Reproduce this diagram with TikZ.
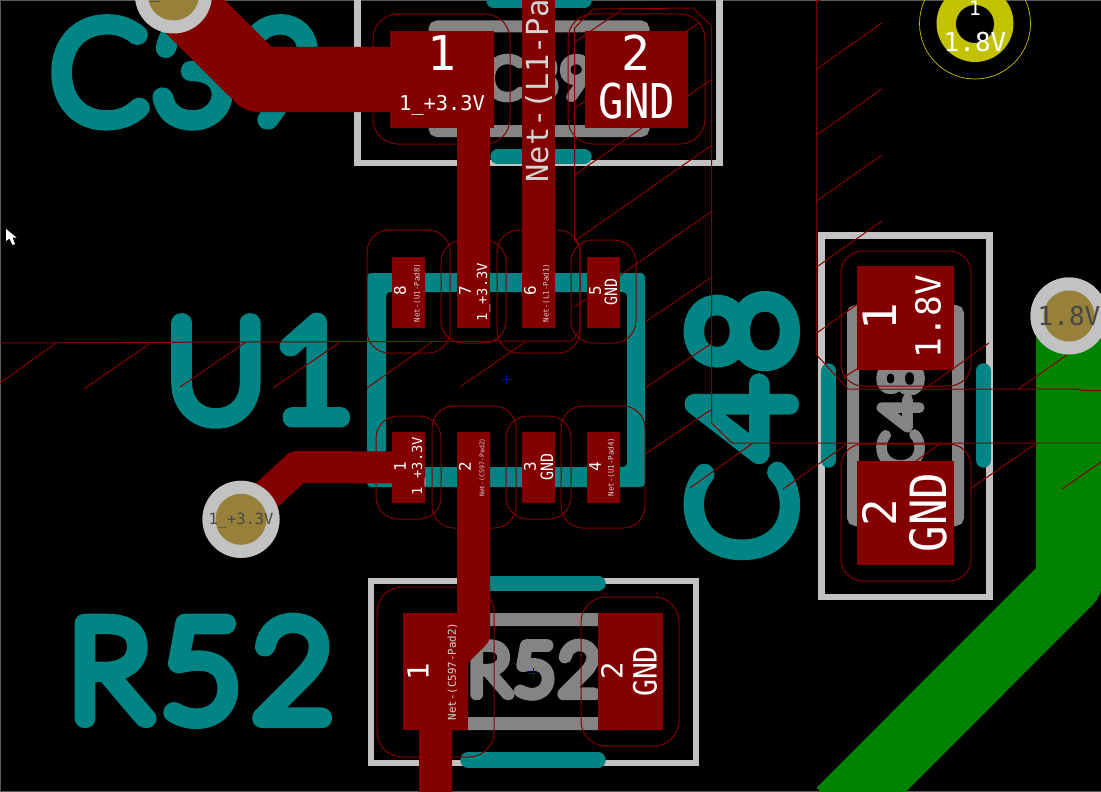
\documentclass[tikz,border=0pt]{standalone}
\usepackage{fontspec}
\newfontfamily\padfont{DejaVu Sans Mono}
\newfontfamily\padnarrow[FakeStretch=0.88]{DejaVu Sans Mono}
\newfontfamily\silkfont[UprightFont=* Hairline, FakeStretch=1.02, LetterSpace=5]{Lato}
\definecolor{padred}{HTML}{840000}
\definecolor{silkteal}{HTML}{008484}
\definecolor{fabgray}{HTML}{848484}
\definecolor{ringgray}{HTML}{C2C2C2}
\definecolor{viagold}{HTML}{97803A}
\definecolor{viayellow}{HTML}{C2C200}
\definecolor{copper}{HTML}{008400}
\definecolor{labelgray}{HTML}{D4D4D4}
% text centred on its capital height
\newcommand\padtext[2]{\fontsize{#1}{#1}\selectfont\raisebox{-.365em}[0pt][0pt]{#2}}
\newcommand\silktext[3]{\fontsize{#1}{#1}\selectfont\silkfont\raisebox{-.36em}[0pt][0pt]{\special{pdf:code q 1 j 1 J #2 w 2 Tr}#3\special{pdf:code Q}}}
\begin{document}
\begin{tikzpicture}[x=1pt, y=-1pt,
    label/.style = {inner sep=0pt, text=white, font=\padfont},
    narrowlabel/.style = {label, font=\padnarrow},
    netlabel/.style = {label, text=labelgray},
    vert/.style = {rotate=90},
    silk/.style = {inner sep=0pt, text=silkteal},
    fabtext/.style = {inner sep=0pt, text=fabgray},
    pad/.style = {fill=padred, inner sep=0pt, minimum width=#1},
    upad/.style = {pad=33pt, minimum height=71pt},
    track/.style = {draw=padred, line width=33pt, line join=round},
    outline/.style = {draw=ringgray, line width=6.5pt},
    silkbar/.style = {draw=silkteal, line width=15.5pt, line cap=round},
    fabline/.style = {draw=fabgray, line width=12pt, rounded corners=3pt},
    clearance/.style = {draw=padred, line width=1pt, rounded corners=#1},
    hatch/.style = {draw=padred, line width=1pt},
    ring/.style = {circle, fill=ringgray, inner sep=0pt, minimum size=77pt},
    core/.style = {circle, fill=viagold, inner sep=0pt, minimum size=51pt},
    centre/.style = {draw=blue!70!black, line width=0.6pt}]
  \clip (0,0) rectangle (1101,792);
  \fill[black] (0,0) rectangle (1101,792);
  % board edge of the window
  \draw[gray!70!black, line width=1.5pt] (0,792) -- (0,0) -- (1101,0);
  \draw[gray!70!black, line width=1pt] (0,791.5) -- (1101,791.5);
  % component outlines
  \draw[outline] (357.5,-20) rectangle (719.5,163);
  \draw[outline] (371,581) rectangle (696,763);
  \draw[outline] (821.5,235.5) rectangle (989.5,597);
  % fabrication layer
  \draw[fabline] (434.5,26.5) rectangle (643.5,131);
  \draw[fabline, line width=13pt] (440,619.5) rectangle (625,723.5);
  \draw[fabline] (853,311) rectangle (958,520);
  \node[fabtext] (fabc39) at (539,77.5) {\silktext{54}{10}{C39}};
  \node[fabtext] (fabr52) at (534,669) {\silktext{70}{12}{R52}};
  \node[fabtext, vert] (fabc48) at (900,416) {\silktext{54}{10}{C48}};
  % silkscreen
  \draw[silkbar] (494,0.5) -- (584,0.5);
  \draw[silkbar] (498,156.5) -- (584,156.5);
  \draw[silkbar] (467.5,583.5) -- (598,583.5);
  \draw[silkbar] (468,760) -- (598,760);
  \draw[silkbar] (828.5,371) -- (828.5,460);
  \draw[silkbar] (983.5,371) -- (983.5,460);
  \fill[silkteal, even odd rule, rounded corners=4pt] (367,273) rectangle (645,487) (386,292) rectangle (627,467);
  \node[silk] (silkc39) at (186,71) {\silktext{136}{19}{C39}};
  \node[silk] (silku1) at (259.5,369) {\silktext{136}{19}{U1}};
  \node[silk] (silkr52) at (200.5,669.5) {\silktext{136}{19}{R\hspace{11pt}5\hspace{11pt}2}};
  \node[silk, vert] (silkc48) at (740.5,425.5) {\silktext{136}{19}{C48}};
  % power plane
  \node[ring] (viac) at (1069,316) {};
  \draw[copper, line width=66pt, line join=round] (viac.center) -- (1069,581.7) -- (840,811);
  % zone outlines and hatching
  \draw[hatch] (0,343) -- (246,342) -- (572,341) -- (580,330) -- (580,247) -- (574.7,240) -- (574.7,28) -- (593,9)
    -- (693,8) -- (711.5,26) -- (711.5,423) -- (732,443) -- (1101,443);
  \draw[hatch] (816.7,0) -- (816.7,355) -- (848,389) -- (1077,389) -- (1082,390.5) -- (1101,390.5);
  \foreach \xa/\ya/\xb/\yb in {0/383/56/343, 84/389/149/344, 180/387/246/342, 273/388/340/342,
      367/388/432/342, 460/387/525/342, 574.7/42/623/9, 574.7/108/700/22, 574.7/175/712/79,
      574.7/241/712/145, 574.7/307/712/211, 645/322/712/277, 645/388/712/343, 645/454/712/409,
      690/488/753/443, 783/489/847/444, 876/489/940/444, 970/489/1035/444, 1062/489/1101/462,
      816.7/2/820/0, 816.7/69/881.7/23, 816.7/135/881.7/89, 816.7/201/881.7/155, 816.7/267/881.7/221,
      816.7/333/881.7/287, 843/378/881.7/353, 923/390/989/343, 1018/389/1067/355}
    \draw[hatch] (\xa,\ya) -- (\xb,\yb);
  % pads
  \node[pad=104pt, minimum height=97pt] (c39a) at (442,79.5) {};
  \node[pad=103pt, minimum height=97pt] (c39b) at (636.5,79.5) {};
  \node[upad] (u1p8) at (408.5,292) {};
  \node[upad] (u1p7) at (473.5,292) {};
  \node[upad] (u1p6) at (538,292) {};
  \node[upad] (u1p5) at (603,292) {};
  \node[upad] (u1p1) at (408.5,467.5) {};
  \node[upad] (u1p2) at (473.5,467.5) {};
  \node[upad] (u1p3) at (538,467.5) {};
  \node[upad] (u1p4) at (603,467.5) {};
  \node[pad=65pt, minimum height=117pt] (r52a) at (435.5,671.5) {};
  \node[pad=65pt, minimum height=117pt] (r52b) at (630.5,671.5) {};
  \node[pad=97pt, minimum height=104pt] (c48a) at (905.5,318) {};
  \node[pad=97pt, minimum height=104pt] (c48b) at (905.5,513) {};
  % vias
  \node[ring] (viaa) at (173.5,-5) {};
  \node[ring] (viab) at (241,519.3) {};
  \node[circle, fill=viayellow, inner sep=0pt, minimum size=77pt] (viad) at (975,23.5) {};
  \node[circle, fill=black, inner sep=0pt, minimum size=38pt] (viadhole) at (975,24) {};
  \node[circle, draw=viayellow, line width=0.7pt, inner sep=0pt, minimum size=111pt] (viadring) at (975,23.5) {};
  % tracks
  \draw[track, line width=65pt] (viaa.center) -- (258.5,79.5) -- (c39a.center);
  \draw[track] (473.5,100) -- (u1p7.center);
  \draw[track] (538,-5) -- (u1p6.center);
  \draw[track, line width=32pt] (u1p1.center) -- (297,467) -- (viab.center);
  \draw[track] (u1p2.center) -- (473.5,634) -- (435.5,672) -- (435.5,800);
  \node[ring] at (viab) {};
  \node[ring] at (viac) {};
  \node[ring] at (viaa) {};
  \node[core] (corea) at (viaa) {};
  \node[core] (coreb) at (viab) {};
  \node[core] (corec) at (viac) {};
  \draw[black!70, line width=1pt] (150,2) -- (160,2);
  % clearance around pads
  \draw[clearance=25pt] (373,14) rectangle (510,144);
  \draw[clearance=25pt] (568,14) rectangle (705,144);
  \draw[clearance=22pt] (367,230) rectangle (450,353);
  \draw[clearance=22pt] (441,240) rectangle (506,343);
  \draw[clearance=22pt] (497,230) rectangle (580,353);
  \draw[clearance=22pt] (571,240) rectangle (636,343);
  \draw[clearance=22pt] (376,416) rectangle (441,519);
  \draw[clearance=22pt] (432,406) rectangle (516,528);
  \draw[clearance=22pt] (506,416) rectangle (571,519);
  \draw[clearance=22pt] (561,406) rectangle (645,528);
  \draw[clearance=25pt] (377,587) rectangle (494,757);
  \draw[clearance=25pt] (581,597) rectangle (679,746);
  \draw[clearance=22pt] (841,251) rectangle (971,386);
  \draw[clearance=22pt] (841,444) rectangle (971,581);
  % footprint centres
  \draw[centre] (501,379) -- (511,379) (506,374) -- (506,384);
  \draw[centre] (528,673) -- (538,673) (533,668) -- (533,678);
  % pad texts
  \node[label] (c39anum) at (442,52.5) {\padtext{48}{1}};
  \node[label] (c39anet) at (442,103) {\padtext{20.4}{1\_+3.3V}};
  \node[label] (c39bnum) at (636,52.5) {\padtext{48}{2}};
  \node[narrowlabel] (c39bnet) at (637,101) {\padtext{48}{GND}};
  \node[netlabel, vert] (l1net) at (537,91) {\padtext{30.4}{Net-(L1-Pa}};
  \node[label, vert] (u1p8num) at (400,291) {\padtext{16}{8}};
  \node[netlabel, vert] (u1p8net) at (417,293) {\padtext{7.5}{Net-(U1-Pad8)}};
  \node[label, vert] (u1p7num) at (465,291) {\padtext{16}{7}};
  \node[label, vert] (u1p7net) at (482,292) {\padtext{13.8}{1\_+3.3V}};
  \node[label, vert] (u1p6num) at (530,291) {\padtext{16}{6}};
  \node[netlabel, vert] (u1p6net) at (546,293) {\padtext{7.5}{Net-(L1-Pad1)}};
  \node[label, vert] (u1p5num) at (595,291) {\padtext{16}{5}};
  \node[narrowlabel, vert] (u1p5net) at (611,292) {\padtext{17}{GND}};
  \node[label, vert] (u1p1num) at (400,467) {\padtext{16}{1}};
  \node[label, vert] (u1p1net) at (417,466) {\padtext{13.8}{1\_+3.3V}};
  \node[label, vert] (u1p2num) at (465,467) {\padtext{16}{2}};
  \node[netlabel, vert] (u1p2net) at (482,467.5) {\padtext{6.5}{Net-(C597-Pad2)}};
  \node[label, vert] (u1p3num) at (530,467) {\padtext{16}{3}};
  \node[narrowlabel, vert] (u1p3net) at (547,467) {\padtext{17}{GND}};
  \node[label, vert] (u1p4num) at (595,467) {\padtext{16}{4}};
  \node[netlabel, vert] (u1p4net) at (611,467) {\padtext{7.5}{Net-(U1-Pad4)}};
  \node[label, vert] (r52anum) at (418,672) {\padtext{29}{1}};
  \node[netlabel, vert] (r52anet) at (452,671.5) {\padtext{10.8}{Net-(C597-Pad2)}};
  \node[label, vert] (r52bnum) at (612,671) {\padtext{29}{2}};
  \node[narrowlabel, vert] (r52bnet) at (645,671.5) {\padtext{32}{GND}};
  \node[label, vert] (c48anum) at (880,317) {\padtext{46}{1}};
  \node[label, vert] (c48anet) at (928,316.5) {\padtext{34.5}{1.8V}};
  \node[label, vert] (c48bnum) at (880,513) {\padtext{46}{2}};
  \node[narrowlabel, vert] (c48bnet) at (928,512.5) {\padtext{50}{GND}};
  % via texts
  \node[label, text=black!72] (viabnet) at (241,519) {\padtext{15.4}{1\_+3.3V}};
  \node[label, text=black!72] (viacnet) at (1069,316) {\padtext{26}{1.8V}};
  \node[label] (viadnum) at (975,8) {\padtext{20}{1}};
  \node[label] (viadnet) at (975,42.5) {\padtext{26}{1.8V}};
  % mouse pointer
  \fill[white] (6,229) -- (6,241) -- (9.5,238.5) -- (12.5,245) -- (15,244) -- (12.5,237.5) -- (16.5,237.5) -- cycle;
\end{tikzpicture}
\end{document}
